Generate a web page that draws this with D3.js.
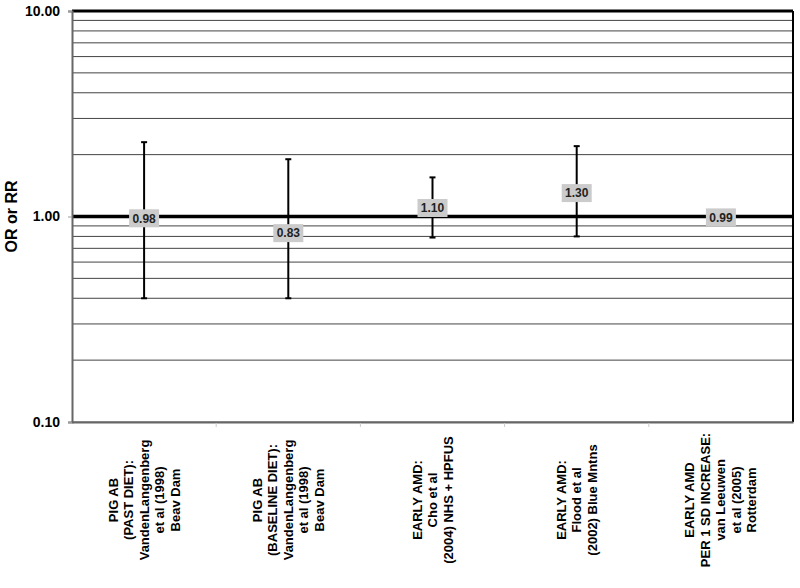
<html>
<head>
    <script src="https://d3js.org/d3.v7.min.js"></script>
</head>
<style>
body { margin: 0; background: #fff; }
text { font-family: Arial, "Liberation Sans", sans-serif; font-weight: bold; }
</style>
<body>
<script>

// study labels (one entry per line)
var categories = [
    ["PIG AB", "(PAST DIET):", "VandenLangenberg", "et al (1998)", "Beav Dam"],
    ["PIG AB", "(BASELINE DIET):", "VandenLangenberg", "et al (1998)", "Beav Dam"],
    ["EARLY AMD:", "Cho et al", "(2004) NHS + HPFUS"],
    ["EARLY AMD:", "Flood et al", "(2002) Blue Mntns"],
    ["EARLY AMD", "PER 1 SD INCREASE:", "van Leeuwen", "et al (2005)", "Rotterdam"]
];
var estimates = [0.98, 0.83, 1.10, 1.30, 0.99];
var lowerCI = [0.40, 0.40, 0.79, 0.80, null];
var upperCI = [2.30, 1.90, 1.55, 2.20, null];
var tickValues = [0.1, 1, 10];

var margin = {top: 11, right: 7, bottom: 166, left: 72},
    width = 800 - margin.left - margin.right,
    height = 588 - margin.top - margin.bottom;

var svg = d3.select("body").append("svg")
    .attr("width", 800)
    .attr("height", 588)
  .append("g")
    .attr("transform", "translate(" + margin.left + "," + margin.top + ")");

var x = d3.scaleBand()
    .domain(d3.range(categories.length))
    .range([0, width]);

var y = d3.scaleLog()
    .domain([0.1, 10])
    .range([height, 0]);

// minor grid
svg.selectAll(".grid")
    .data(y.ticks())
  .enter().append("line")
    .attr("x1", 0).attr("x2", width)
    .attr("y1", function(d) { return y(d); })
    .attr("y2", function(d) { return y(d); })
    .attr("stroke", "#444")
    .attr("stroke-width", 1);

// reference line at 1 and top line at 10
svg.append("line")
    .attr("x1", 0).attr("x2", width)
    .attr("y1", y(1)).attr("y2", y(1))
    .attr("stroke", "#000").attr("stroke-width", 3.5);
svg.append("line")
    .attr("x1", 0).attr("x2", width)
    .attr("y1", y(10)).attr("y2", y(10))
    .attr("stroke", "#000").attr("stroke-width", 3);

// right border
svg.append("line")
    .attr("x1", width).attr("x2", width)
    .attr("y1", y(10)).attr("y2", y(0.1))
    .attr("stroke", "#000").attr("stroke-width", 2);

// y axis
var yAxis = svg.append("g")
    .call(d3.axisLeft(y).tickValues(tickValues).tickSize(4).tickPadding(8)
        .tickFormat(d3.format(".2f")));
yAxis.select(".domain").attr("stroke", "#666").attr("stroke-width", 2);
yAxis.selectAll(".tick line").attr("stroke", "#999");
yAxis.selectAll(".tick text")
    .attr("fill", "#000")
    .style("font-size", "14px")
    .style("font-family", "Arial, 'Liberation Sans', sans-serif")
    .style("font-weight", "bold");

// x axis
var xAxis = svg.append("g")
    .attr("transform", "translate(0," + height + ")")
    .call(d3.axisBottom(x).tickSize(0).tickFormat(""));
xAxis.select(".domain").attr("stroke", "#666").attr("stroke-width", 2);

// band separators on x axis
svg.selectAll(".sep")
    .data(d3.range(1, categories.length))
  .enter().append("line")
    .attr("x1", function(d) { return x(d); })
    .attr("x2", function(d) { return x(d); })
    .attr("y1", height + 1).attr("y2", height + 5)
    .attr("stroke", "#ccc");

// category labels, rotated
var lineH = 15.5;
categories.forEach(function(lines, i) {
    var cx = x(i) + x.bandwidth() / 2;
    var n = lines.length;
    var t = svg.append("text")
        .attr("transform", "translate(" + cx + "," + (height + 78) + ") rotate(-90)")
        .attr("text-anchor", "middle")
        .style("font-size", "13px")
        .attr("fill", "#000");
    lines.forEach(function(s, j) {
        t.append("tspan")
            .attr("x", 0)
            .attr("y", (j - (n - 1) / 2) * lineH + 4.5)
            .text(s);
    });
});

// error bars
var capW = 3;
estimates.forEach(function(v, i) {
    if (lowerCI[i] == null) return;
    var cx = x(i) + x.bandwidth() / 2;
    var g = svg.append("g").attr("stroke", "#000").attr("stroke-width", 2);
    g.append("line").attr("x1", cx).attr("x2", cx)
        .attr("y1", y(upperCI[i])).attr("y2", y(lowerCI[i]));
    g.append("line").attr("x1", cx - capW).attr("x2", cx + capW)
        .attr("y1", y(upperCI[i])).attr("y2", y(upperCI[i]));
    g.append("line").attr("x1", cx - capW).attr("x2", cx + capW)
        .attr("y1", y(lowerCI[i])).attr("y2", y(lowerCI[i]));
});

// value labels
var labels = svg.selectAll(".val")
    .data(estimates)
  .enter().append("g")
    .attr("transform", function(d, i) {
        return "translate(" + (x(i) + x.bandwidth() / 2) + "," + y(d) + ")";
    });
labels.append("rect")
    .attr("x", -15).attr("y", -9)
    .attr("width", 30).attr("height", 18)
    .attr("fill", "#cbcbcb");
labels.append("text")
    .attr("text-anchor", "middle")
    .attr("dy", "0.36em")
    .style("font-size", "12px")
    .attr("fill", "#222")
    .text(function(d) { return d3.format(".2f")(d); });

// y title
svg.append("text")
    .attr("transform", "translate(" + (17 - margin.left) + "," + y(1) + ") rotate(-90)")
    .attr("text-anchor", "middle")
    .style("font-size", "16px")
    .attr("fill", "#000")
    .text("OR or RR");

</script>
</body>
</html>
